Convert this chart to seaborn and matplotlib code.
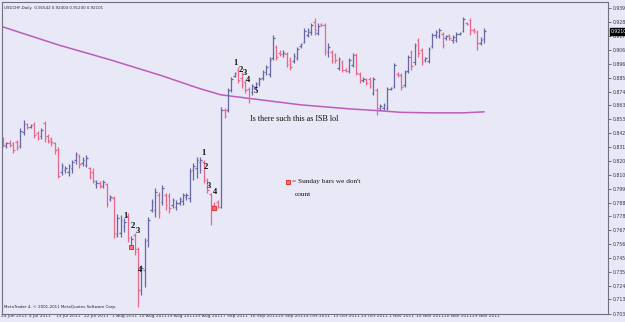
import matplotlib
matplotlib.use("Agg")
import matplotlib.pyplot as plt
import seaborn as sns
import pandas as pd
from matplotlib.transforms import blended_transform_factory, ScaledTranslation

# ---------------- data (USDCHF daily) ----------------
open_ = [0.8381, 0.8327, 0.8350, 0.8350, 0.8358, 0.8327, 0.8435, 0.8496, 0.8473, 0.8496,
         0.8427, 0.8404, 0.8504, 0.8404, 0.8381, 0.8350, 0.8303, 0.8126, 0.8141, 0.8126,
         0.8157, 0.8219, 0.8250, 0.8195, 0.8180, 0.8157, 0.8126, 0.8033, 0.8041, 0.8018,
         0.8033, 0.7918, 0.7925, 0.7647, 0.7655, 0.7709, 0.7786, 0.7555, 0.7640, 0.7532,
         0.7215, 0.7369, 0.7601, 0.7833, 0.7833, 0.7948, 0.7894, 0.7948, 0.7941, 0.7871,
         0.7856, 0.7887, 0.7902, 0.7933, 0.7925, 0.8141, 0.8157, 0.8203, 0.8203, 0.8064,
         0.7956, 0.7871, 0.7894, 0.7856, 0.8605, 0.8605, 0.8759, 0.8867, 0.8913, 0.8852,
         0.8821, 0.8767, 0.8744, 0.8774, 0.8813, 0.8852, 0.8898, 0.8882, 0.9006, 0.9091,
         0.9045, 0.9037, 0.9037, 0.8991, 0.8983, 0.9006, 0.9099, 0.9130, 0.9184, 0.9207,
         0.9284, 0.9199, 0.9268, 0.9261, 0.9052, 0.9052, 0.9029, 0.8929, 0.8975, 0.8913,
         0.8906, 0.8952, 0.9029, 0.8882, 0.8836, 0.8844, 0.8844, 0.8736, 0.8759, 0.8620,
         0.8620, 0.8620, 0.8767, 0.8790, 0.8882, 0.8875, 0.8798, 0.8906, 0.9052, 0.8975,
         0.9145, 0.9068, 0.8991, 0.8983, 0.9099, 0.9184, 0.9176, 0.9191, 0.9160, 0.9184,
         0.9145, 0.9145, 0.9191, 0.9214, 0.9276, 0.9299, 0.9222, 0.9207, 0.9122, 0.91542]
high = [0.8396, 0.8358, 0.8373, 0.8358, 0.8373, 0.8466, 0.8527, 0.8504, 0.8496, 0.8512,
        0.8442, 0.8466, 0.8520, 0.8419, 0.8396, 0.8358, 0.8319, 0.8195, 0.8172, 0.8188,
        0.8219, 0.8280, 0.8265, 0.8242, 0.8257, 0.8165, 0.8157, 0.8064, 0.8056, 0.8064,
        0.8041, 0.7948, 0.7941, 0.7802, 0.7794, 0.7771, 0.7809, 0.7632, 0.7655, 0.7547,
        0.7408, 0.7616, 0.7779, 0.7918, 0.8002, 0.7972, 0.8026, 0.7964, 0.7964, 0.7925,
        0.7910, 0.7933, 0.7964, 0.7964, 0.8157, 0.8195, 0.8242, 0.8242, 0.8219, 0.8080,
        0.7964, 0.7894, 0.7910, 0.8628, 0.8620, 0.8774, 0.8859, 0.8898, 0.8937, 0.8898,
        0.8836, 0.8782, 0.8805, 0.8821, 0.8859, 0.8913, 0.8952, 0.9014, 0.9184, 0.9106,
        0.9068, 0.9068, 0.9052, 0.9014, 0.9045, 0.9091, 0.9122, 0.9238, 0.9238, 0.9276,
        0.9315, 0.9276, 0.9276, 0.9276, 0.9122, 0.9068, 0.9045, 0.9014, 0.8991, 0.8929,
        0.9006, 0.9045, 0.9045, 0.8898, 0.8859, 0.8852, 0.8859, 0.8859, 0.8774, 0.8651,
        0.8659, 0.8782, 0.8782, 0.8967, 0.8898, 0.8890, 0.8913, 0.9029, 0.9068, 0.9122,
        0.9160, 0.9083, 0.9014, 0.9091, 0.9199, 0.9222, 0.9238, 0.9207, 0.9184, 0.9191,
        0.9184, 0.9207, 0.9207, 0.9323, 0.9284, 0.9315, 0.9238, 0.9222, 0.9168, 0.92404]
low = [0.8319, 0.8311, 0.8319, 0.8273, 0.8296, 0.8311, 0.8412, 0.8458, 0.8466, 0.8388,
       0.8373, 0.8381, 0.8358, 0.8350, 0.8327, 0.8265, 0.8080, 0.8103, 0.8118, 0.8095,
       0.8118, 0.8188, 0.8157, 0.8172, 0.8165, 0.8072, 0.8041, 0.8002, 0.8002, 0.8002,
       0.7856, 0.7902, 0.7616, 0.7624, 0.7624, 0.7663, 0.7586, 0.7547, 0.7485, 0.7084,
       0.7176, 0.7238, 0.7547, 0.7817, 0.7779, 0.7771, 0.7871, 0.7833, 0.7809, 0.7848,
       0.7833, 0.7871, 0.7871, 0.7910, 0.7894, 0.8064, 0.8080, 0.8118, 0.8041, 0.7964,
       0.7717, 0.7848, 0.7848, 0.7848, 0.8543, 0.8589, 0.8744, 0.8859, 0.8813, 0.8774,
       0.8736, 0.8659, 0.8720, 0.8759, 0.8790, 0.8836, 0.8875, 0.8859, 0.8991, 0.8991,
       0.9021, 0.9014, 0.8937, 0.8913, 0.8967, 0.8991, 0.9083, 0.9122, 0.9168, 0.9184,
       0.9184, 0.9184, 0.9253, 0.9029, 0.9014, 0.8967, 0.8967, 0.8913, 0.8898, 0.8898,
       0.8890, 0.8937, 0.8875, 0.8813, 0.8821, 0.8798, 0.8774, 0.8720, 0.8566, 0.8605,
       0.8605, 0.8605, 0.8759, 0.8774, 0.8859, 0.8759, 0.8782, 0.8890, 0.8913, 0.8952,
       0.9014, 0.8952, 0.8975, 0.8967, 0.9083, 0.9160, 0.9160, 0.9083, 0.9145, 0.9145,
       0.9122, 0.9130, 0.9184, 0.9207, 0.9261, 0.9184, 0.9199, 0.9068, 0.9106, 0.91230]
close = [0.8334, 0.8350, 0.8334, 0.8296, 0.8319, 0.8442, 0.8496, 0.8473, 0.8489, 0.8412,
         0.8388, 0.8450, 0.8388, 0.8365, 0.8358, 0.8296, 0.8095, 0.8172, 0.8157, 0.8172,
         0.8203, 0.8265, 0.8188, 0.8219, 0.8234, 0.8087, 0.8056, 0.8041, 0.8018, 0.8049,
         0.7879, 0.7933, 0.7655, 0.7771, 0.7755, 0.7740, 0.7616, 0.7609, 0.7508, 0.7215,
         0.7385, 0.7593, 0.7755, 0.7894, 0.7972, 0.7817, 0.8002, 0.7871, 0.7848, 0.7910,
         0.7887, 0.7918, 0.7948, 0.7948, 0.8134, 0.8172, 0.8219, 0.8219, 0.8064, 0.7987,
         0.7871, 0.7848, 0.7856, 0.8605, 0.8558, 0.8759, 0.8844, 0.8890, 0.8836, 0.8798,
         0.8759, 0.8697, 0.8790, 0.8805, 0.8844, 0.8898, 0.8937, 0.8991, 0.9160, 0.9014,
         0.9037, 0.9045, 0.8960, 0.8937, 0.9021, 0.9075, 0.9114, 0.9214, 0.9222, 0.9261,
         0.9222, 0.9253, 0.9261, 0.9068, 0.9091, 0.8991, 0.8991, 0.8998, 0.8913, 0.8906,
         0.8991, 0.9029, 0.8890, 0.8828, 0.8844, 0.8813, 0.8790, 0.8844, 0.8620, 0.8635,
         0.8643, 0.8767, 0.8774, 0.8952, 0.8875, 0.8782, 0.8898, 0.9014, 0.8944, 0.9106,
         0.9045, 0.8975, 0.9006, 0.9075, 0.9184, 0.9207, 0.9222, 0.9106, 0.9176, 0.9160,
         0.9168, 0.9191, 0.9199, 0.9307, 0.9268, 0.9222, 0.9214, 0.9122, 0.9145, 0.92101]

# 200-period moving average, read at a few bars
ma_bar = [0, 16, 31, 46, 57, 63, 72, 86, 100, 109, 115, 124, 133, 139]
ma_val = [0.9245, 0.9106, 0.8991, 0.8867, 0.8767, 0.8720, 0.8690, 0.8643, 0.8612,
          0.8597, 0.8585, 0.8581, 0.8581, 0.8589]

# Sunday bars marked in red
sunday_bar = [37, 61]

x_tick_bars = [0, 8, 16, 24, 32, 40, 48, 56, 64, 72, 80, 88, 96, 104, 112, 120, 128, 136]
x_tick_labels = ["24 Jun 2011", "4 Jul 2011", "13 Jul 2011", "22 Jul 2011", "1 Aug 2011",
                 "10 Aug 2011", "19 Aug 2011", "29 Aug 2011", "7 Sep 2011", "16 Sep 2011",
                 "25 Sep 2011", "4 Oct 2011", "13 Oct 2011", "23 Oct 2011", "1 Nov 2011",
                 "10 Nov 2011", "20 Nov 2011", "29 Nov 2011"]
y_ticks = [0.93920, 0.92830, 0.91750, 0.90670, 0.89620, 0.88540, 0.87460, 0.86380,
           0.85300, 0.84250, 0.83170, 0.82090, 0.81010, 0.79960, 0.78880, 0.77800,
           0.76730, 0.75640, 0.74590, 0.73510, 0.72430, 0.71390, 0.70300]
y_tick_labels = ["0.93920", "0.92830", "0.91750", "0.90670", "0.89620", "0.88540",
                 "0.87460", "0.86380", "0.85300", "0.84250", "0.83170", "0.82090",
                 "0.81010", "0.79960", "0.78880", "0.77800", "0.76730", "0.75640",
                 "0.74590", "0.73510", "0.72430", "0.71390", "0.70300"]

title_text = "USDCHF,Daily  0.91542 0.92404 0.91230 0.92101"
copyright_text = "MetaTrader 4, \u00a9 2001-2011 MetaQuotes Software Corp."
price_box_text = "0.92101"

# annotation numbers: (text, bar, price)
wave_labels = [("1", 35.4, 0.7786), ("2", 37.5, 0.7709), ("3", 38.9, 0.7668), ("4", 39.5, 0.7369),
               ("1", 58.0, 0.8273), ("2", 58.7, 0.8165), ("3", 59.5, 0.8018), ("4", 61.2, 0.7968),
               ("1", 67.2, 0.8967), ("2", 68.8, 0.8910), ("3", 70.0, 0.8888), ("4", 70.7, 0.8834),
               ("5", 73.0, 0.8752)]
note_text = "Is there such this as ISB lol"
legend_text_1 = "= Sunday bars we don't"
legend_text_2 = "count"

# ---------------- drawing ----------------
sns.set_theme(style="white")
plt.rcParams["font.family"] = ["DejaVu Sans"]

BG = "#E8E8F6"
UP = "#6767A8"
DOWN = "#E8678A"

df = pd.DataFrame({"bar": range(len(open_)), "open": open_, "high": high,
                   "low": low, "close": close})
df["color"] = [UP if c >= o else DOWN for o, c in zip(df["open"], df["close"])]

fig = plt.figure(figsize=(6.25, 3.22), dpi=100, facecolor=BG)
ax = fig.add_axes([2 / 625, 8.5 / 322, 606 / 625, 311.5 / 322])
ax.set_facecolor(BG)

ma_df = pd.DataFrame({"bar": ma_bar, "ma": ma_val})
sns.lineplot(data=ma_df, x="bar", y="ma", ax=ax, color="#BC5CBC", linewidth=1.1,
             legend=False, zorder=1)

w = 0.45
ax.vlines(df["bar"], df["low"], df["high"], colors=df["color"], linewidth=0.9, zorder=2)
ax.hlines(df["open"], df["bar"] - w, df["bar"], colors=df["color"], linewidth=0.9, zorder=2)
ax.hlines(df["close"], df["bar"], df["bar"] + w, colors=df["color"], linewidth=0.9, zorder=2)

sun_df = pd.DataFrame({"bar": sunday_bar, "p": [low[b] for b in sunday_bar]})
sns.scatterplot(data=sun_df, x="bar", y="p", ax=ax, marker="s", s=9,
                color="#FF7070", edgecolor="#E82020", linewidth=0.6, zorder=3, legend=False)

ax.set_xlim(-0.3, 174.8)
ax.set_ylim(0.7030, 0.9438)

ax.yaxis.tick_right()
ax.set_yticks(y_ticks)
ax.set_yticklabels(y_tick_labels)
ax.set_xticks(x_tick_bars)
ax.set_xticklabels(x_tick_labels, ha="left")
ax.tick_params(axis="y", labelsize=3.3, length=2.5, width=0.6, color="#555566",
               labelcolor="#333344", pad=1.2, right=True)
ax.tick_params(axis="x", labelsize=3.2, length=0, labelcolor="#333344", pad=0.6)
shift = ScaledTranslation(-2 / 100, 0, fig.dpi_scale_trans)
for lbl in ax.get_xticklabels():
    lbl.set_transform(lbl.get_transform() + shift)
ax.set_xlabel("")
ax.set_ylabel("")
for s in ax.spines.values():
    s.set_color("#707080")
    s.set_linewidth(0.8)

ax.text(0.004, 0.986, title_text, transform=ax.transAxes, fontsize=2.9,
        color="#222233", ha="left", va="top")
ax.text(0.004, 0.014, copyright_text, transform=ax.transAxes, fontsize=2.9,
        color="#222233", ha="left", va="bottom")

tr = blended_transform_factory(ax.transAxes, ax.transData)
ax.text(1.004, close[-1], price_box_text, transform=tr, fontsize=3.3, color="white",
        ha="left", va="center", clip_on=False,
        bbox=dict(boxstyle="square,pad=0.2", fc="black", ec="black"))

serif = ["Liberation Serif", "DejaVu Serif"]
for t, b, p in wave_labels:
    ax.text(b, p, t, family=serif, fontsize=6.2, fontweight="bold", color="#111111",
            ha="center", va="center", zorder=4)

ax.text(71.4, 0.8537, note_text, family=serif, fontsize=5.9, color="#111111",
        ha="left", va="center", zorder=4)

leg_df = pd.DataFrame({"bar": [82.2], "p": [0.8049]})
sns.scatterplot(data=leg_df, x="bar", y="p", ax=ax, marker="s", s=9,
                color="#FF7070", edgecolor="#E82020", linewidth=0.6, zorder=4, legend=False)
ax.text(83.6, 0.8049, legend_text_1, family=serif, fontsize=5.2, color="#111111",
        ha="left", va="center")
ax.text(84.4, 0.7948, legend_text_2, family=serif, fontsize=5.2, color="#111111",
        ha="left", va="center")

fig.savefig("out.png", dpi=100, facecolor=BG)
